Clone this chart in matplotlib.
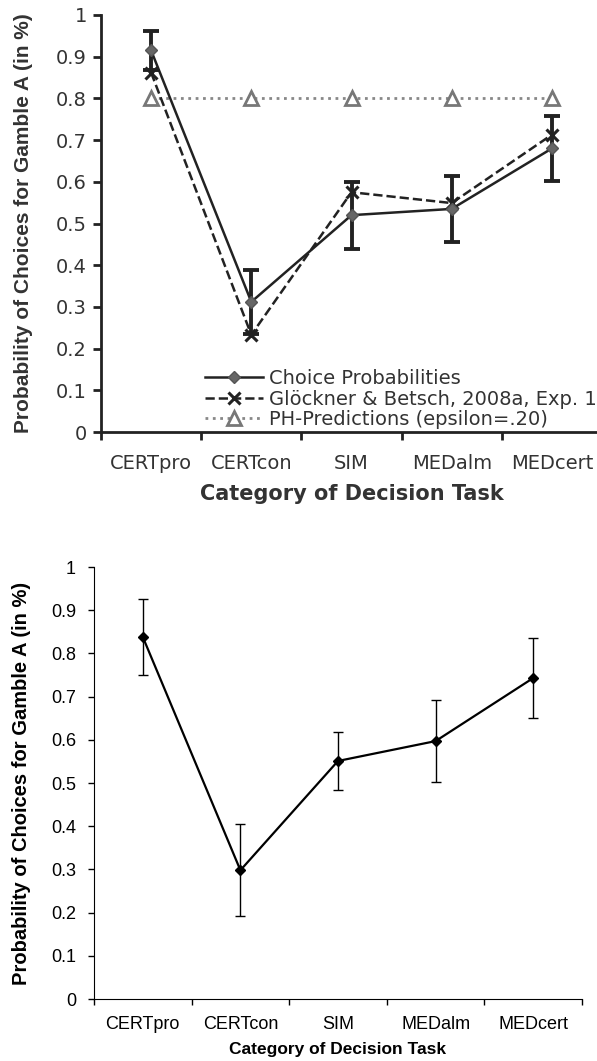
import matplotlib
matplotlib.use("Agg")
import matplotlib.pyplot as plt

plt.rcParams['font.family'] = ['Liberation Sans', 'DejaVu Sans']

categories = ["CERTpro", "CERTcon", "SIM", "MEDalm", "MEDcert"]

# top panel
choice_top = [0.915, 0.312, 0.520, 0.535, 0.680]
choice_top_err = [0.047, 0.076, 0.080, 0.080, 0.077]
gloeckner = [0.862, 0.233, 0.575, 0.549, 0.713]
ph_pred = [0.80, 0.80, 0.80, 0.80, 0.80]

# bottom panel
choice_bottom = [0.838, 0.298, 0.551, 0.597, 0.743]
choice_bottom_err = [0.089, 0.107, 0.067, 0.095, 0.092]

yticks = [0, 0.1, 0.2, 0.3, 0.4, 0.5, 0.6, 0.7, 0.8, 0.9, 1]
ytick_labels = ["0", "0.1", "0.2", "0.3", "0.4", "0.5", "0.6", "0.7", "0.8", "0.9", "1"]

W, H = 597, 1061
fig = plt.figure(figsize=(W / 100, H / 100), dpi=100)

x = list(range(len(categories)))
bounds = [i - 0.5 for i in range(len(categories) + 1)]

# ---------- top chart (the scanned figure is a bit stretched, so use a wider font) ----------
tc = '#333333'
wide = ['DejaVu Sans']
ax1 = fig.add_axes([101 / W, 1 - 432 / H, (602 - 101) / W, (432 - 15) / H])
ax1.plot(x, ph_pred, color='#888888', ls=':', lw=2, marker='^', ms=10,
         mfc='white', mec='#777777', mew=2, label='PH-Predictions (epsilon=.20)', zorder=2)
ax1.plot(x, gloeckner, color='#222222', ls='--', lw=1.8, marker='x', ms=9,
         mew=2.2, label='Glöckner & Betsch, 2008a, Exp. 1', zorder=3)
ax1.errorbar(x, choice_top, yerr=choice_top_err, fmt='none', ecolor='#222222',
             elinewidth=2.8, capsize=5.5, capthick=2.8, zorder=4)
ax1.plot(x, choice_top, color='#222222', lw=1.8, marker='D', ms=6.5,
         mfc='#666666', mec='#555555', label='Choice Probabilities', zorder=5)

ax1.set_xlim(-0.5, 4.5)
ax1.set_ylim(0, 1)
ax1.set_yticks(yticks)
ax1.set_yticklabels(ytick_labels, family=wide)
ax1.set_xticks(bounds)
ax1.set_xticklabels([])
ax1.set_xticks(x, minor=True)
ax1.set_xticklabels(categories, minor=True, family=wide)
ax1.tick_params(axis='x', which='minor', length=0, pad=16, labelsize=14, labelcolor=tc)
ax1.tick_params(axis='x', which='major', length=6, width=2, color='#222222')
ax1.tick_params(axis='y', length=6, width=2, color='#222222', labelsize=14, labelcolor=tc, pad=4)
for s in ['top', 'right']:
    ax1.spines[s].set_visible(False)
for s in ['left', 'bottom']:
    ax1.spines[s].set_linewidth(2)
    ax1.spines[s].set_color('#222222')
ax1.set_xlabel('Category of Decision Task', fontsize=15, fontweight='bold', color=tc,
               labelpad=8, family=wide)
ax1.set_ylabel('Probability of Choices for Gamble A (in %)', fontsize=15,
               fontweight='bold', color=tc)
ax1.yaxis.set_label_coords(-0.136, 0.5)

handles, labels = ax1.get_legend_handles_labels()
order = [2, 1, 0]
ax1.legend([handles[i] for i in order], [labels[i] for i in order],
           loc='upper left', bbox_to_anchor=(205 / W, 1 - 369 / H),
           bbox_transform=fig.transFigure, frameon=False,
           prop={'family': wide, 'size': 14},
           handlelength=3.0, handletextpad=0.3, labelspacing=0.08, borderpad=0,
           borderaxespad=0, labelcolor=tc)

# ---------- bottom chart ----------
ax2 = fig.add_axes([94 / W, 1 - 999 / H, (582 - 94) / W, (999 - 567) / H])
ax2.errorbar(x, choice_bottom, yerr=choice_bottom_err, fmt='none', ecolor='black',
             elinewidth=1, capsize=3.5, capthick=1, zorder=2)
ax2.plot(x, choice_bottom, color='black', lw=1.6, marker='D', ms=5, zorder=3)

ax2.set_xlim(-0.5, 4.5)
ax2.set_ylim(0, 1)
ax2.set_yticks(yticks)
ax2.set_yticklabels(ytick_labels)
ax2.set_xticks(bounds)
ax2.set_xticklabels([])
ax2.set_xticks(x, minor=True)
ax2.set_xticklabels(categories, minor=True)
ax2.tick_params(axis='x', which='minor', length=0, pad=12, labelsize=13)
ax2.tick_params(axis='x', which='major', length=4, width=1)
ax2.tick_params(axis='y', length=4, width=1, labelsize=13, pad=9)
for s in ['top', 'right']:
    ax2.spines[s].set_visible(False)
ax2.set_xlabel('Category of Decision Task', fontsize=12.5, fontweight='bold', labelpad=7)
ax2.set_ylabel('Probability of Choices for Gamble A (in %)', fontsize=14.5,
               fontweight='bold')
ax2.yaxis.set_label_coords(-0.13, 0.5)

fig.savefig('out.png', dpi=100)
